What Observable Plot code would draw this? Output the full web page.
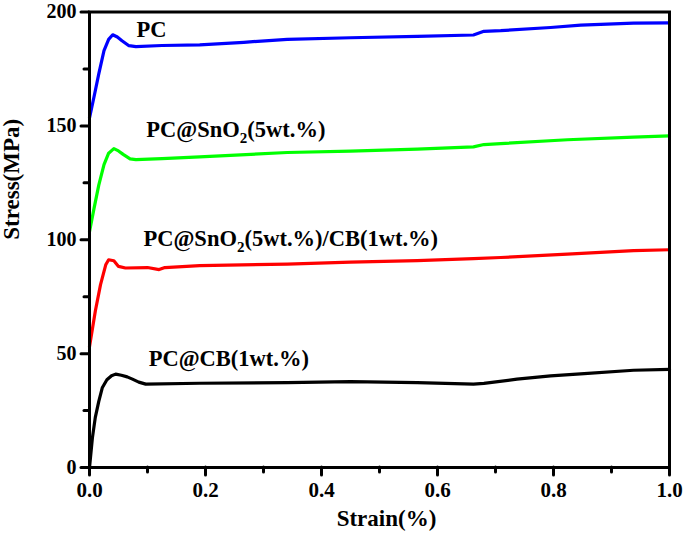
<!DOCTYPE html>
<html>
<head>
<meta charset="utf-8">
<script src="https://cdn.jsdelivr.net/npm/d3@7"></script>
<script src="https://cdn.jsdelivr.net/npm/@observablehq/plot@0.6"></script>
<style>
  html, body { margin: 0; padding: 0; background: #fff; }
  #chart { width: 685px; height: 534px; }
</style>
</head>
<body>
<div id="chart"></div>
<script>
// ---- Data ----
const pcStrain   = [0, 0.008, 0.016, 0.025, 0.033, 0.04, 0.048, 0.056, 0.068, 0.08, 0.125, 0.19, 0.266, 0.341, 0.45, 0.565, 0.662, 0.68, 0.709, 0.795, 0.847, 0.938, 1.0];
const pcStress   = [153.5, 163, 172.8, 183, 188, 190, 189, 187.4, 185.2, 184.8, 185.3, 185.6, 186.7, 188, 188.7, 189.3, 189.9, 191.5, 191.8, 193.2, 194.2, 195.1, 195.2];

const snStrain   = [0, 0.008, 0.016, 0.025, 0.033, 0.042, 0.05, 0.058, 0.07, 0.08, 0.125, 0.19, 0.341, 0.45, 0.565, 0.662, 0.68, 0.709, 0.824, 0.938, 1.0];
const snStress   = [103.5, 114, 124, 133, 138, 140, 139, 137.5, 135.5, 135.2, 135.6, 136.4, 138.3, 138.9, 139.8, 140.8, 141.8, 142.2, 143.9, 145.1, 145.6];

const sncbStrain = [0, 0.01, 0.019, 0.028, 0.033, 0.042, 0.05, 0.062, 0.1, 0.12, 0.13, 0.19, 0.341, 0.45, 0.565, 0.662, 0.709, 0.824, 0.938, 1.0];
const sncbStress = [53, 68.6, 80.3, 89, 91.2, 90.8, 88.3, 87.6, 87.8, 86.9, 87.8, 88.6, 89.3, 90.2, 90.8, 91.7, 92.2, 93.7, 95.2, 95.6];

const cbStrain   = [0, 0.005, 0.01, 0.016, 0.022, 0.03, 0.038, 0.045, 0.055, 0.065, 0.074, 0.085, 0.097, 0.19, 0.341, 0.45, 0.565, 0.662, 0.68, 0.737, 0.795, 0.853, 0.938, 1.0];
const cbStress   = [0, 13, 22, 29, 35, 38.5, 40.3, 41, 40.5, 39.8, 38.8, 37.5, 36.6, 37, 37.3, 37.7, 37.3, 36.6, 36.9, 38.8, 40.2, 41.2, 42.7, 43.1];

const seriesNames  = ["PC", "PC@SnO2(5wt.%)", "PC@SnO2(5wt.%)/CB(1wt.%)", "PC@CB(1wt.%)"];
const seriesColors = ["#0000ff", "#00ff00", "#ff0000", "#000000"];
const labelX = [0.081, 0.098, 0.093, 0.102];
const labelY = [189.2, 145.3, 97.4, 44.6];

const xMajorTicks = [0, 0.2, 0.4, 0.6, 0.8, 1.0];
const xMinorTicks = [0.1, 0.3, 0.5, 0.7, 0.9];
const yMajorTicks = [0, 50, 100, 150, 200];
const yMinorTicks = [25, 75, 125, 175];

// ---- Build table ----
const strains = [pcStrain, snStrain, sncbStrain, cbStrain];
const stresses = [pcStress, snStress, sncbStress, cbStress];
const rows = [];
seriesNames.forEach((name, i) => {
  strains[i].forEach((s, j) => rows.push({series: name, strain: s, stress: stresses[i][j]}));
});
const labels = seriesNames.map((name, i) => ({name, x: labelX[i], y: labelY[i]}));

const chart = Plot.plot({
  width: 685,
  height: 534,
  marginLeft: 89,
  marginRight: 16,
  marginTop: 11.5,
  marginBottom: 67,
  style: {fontFamily: "'Liberation Serif', 'Times New Roman', serif", fontSize: "20px", fontWeight: "bold", background: "#fff", color: "#000"},
  x: {domain: [0, 1]},
  y: {domain: [0, 200]},
  color: {domain: seriesNames, range: seriesColors},
  marks: [
    Plot.line(rows, {x: "strain", y: "stress", z: "series", stroke: "series", strokeWidth: 3.2, curve: "linear"}),
    Plot.text(labels, {x: "x", y: "y", text: "name", textAnchor: "start", lineAnchor: "bottom", fontSize: 22.5, fontWeight: "bold", fill: "#000"}),
    Plot.axisX({ticks: xMajorTicks, tickFormat: d3.format(".1f"), tickSize: 8, tickPadding: 7, strokeWidth: 3, strokeLinecap: "round", fontSize: 21, label: null}),
    Plot.axisX({ticks: xMinorTicks, tickFormat: () => "", tickSize: 5, strokeWidth: 3, strokeLinecap: "round", label: null}),
    Plot.axisY({ticks: yMajorTicks, tickSize: 8, tickPadding: 5, strokeWidth: 3, strokeLinecap: "round", fontSize: 20, label: null}),
    Plot.axisY({ticks: yMinorTicks, tickFormat: () => "", tickSize: 5, strokeWidth: 3, strokeLinecap: "round", label: null}),
    Plot.text(["Strain(%)"], {frameAnchor: "bottom", dx: 7, dy: 58, lineAnchor: "bottom", fontSize: 23, fontWeight: "bold", fill: "#000"}),
    Plot.text(["Stress(MPa)"], {frameAnchor: "left", dx: -87, rotate: -90, lineAnchor: "top", fontSize: 23, fontWeight: "bold", fill: "#000"}),
    Plot.frame({stroke: "#000", strokeWidth: 3})
  ]
});

// Subscript the "2" in SnO2
d3.select(chart).selectAll("text").each(function() {
  const el = this;
  const targets = el.querySelectorAll("tspan").length ? el.querySelectorAll("tspan") : [el];
  targets.forEach(t => {
    const s = t.textContent;
    if (s.includes("SnO2")) {
      const idx = s.indexOf("SnO2") + 4;
      t.textContent = "";
      const sel = d3.select(t);
      sel.append("tspan").text(s.slice(0, idx - 1));
      sel.append("tspan").attr("dy", 6).style("font-size", "15px").text("2");
      sel.append("tspan").attr("dy", -6).text(s.slice(idx));
    }
  });
});

document.getElementById("chart").appendChild(chart);
</script>
</body>
</html>
